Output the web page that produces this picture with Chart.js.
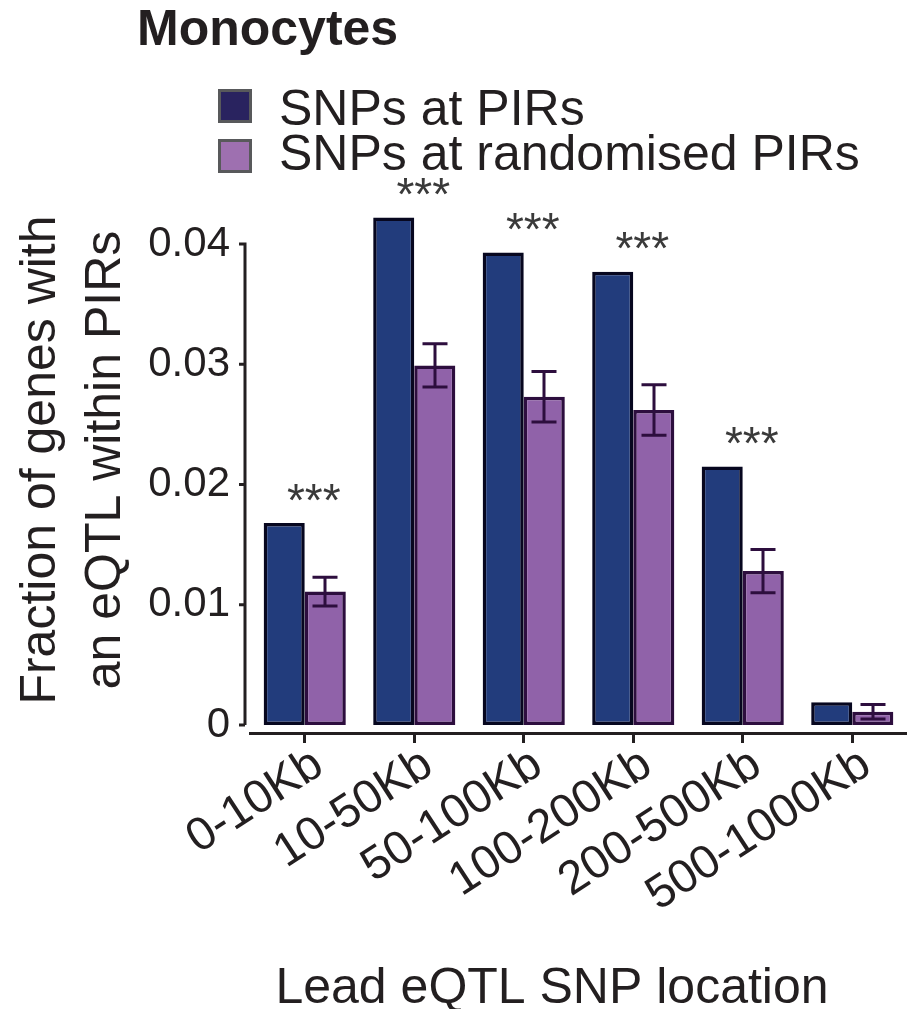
<!DOCTYPE html>
<html>
<head>
<meta charset="utf-8">
<script src="https://cdn.jsdelivr.net/npm/chart.js@4.4.1/dist/chart.umd.min.js"></script>
<style>
  html, body { margin: 0; padding: 0; background: #ffffff; }
  canvas { display: block; }
</style>
</head>
<body>
<canvas id="chart" width="907" height="1009"></canvas>
<script>
// ---- data -------------------------------------------------------------
const categories = ['0-10Kb', '10-50Kb', '50-100Kb', '100-200Kb', '200-500Kb', '500-1000Kb'];
const pirFraction = [0.0168, 0.0422, 0.0393, 0.0377, 0.0215, 0.0019];
const randomFraction = [0.0111, 0.0299, 0.0273, 0.0262, 0.0128, 0.0011];
const randomError = [0.0012, 0.0018, 0.0021, 0.0021, 0.0018, 0.0006];
const significance = ['***', '***', '***', '***', '***', ''];
const yTicks = [0, 0.01, 0.02, 0.03, 0.04];
const seriesNames = ['SNPs at PIRs', 'SNPs at randomised PIRs'];
const panelTitle = 'Monocytes';
const yTitle = ['Fraction of genes with', 'an eQTL within PIRs'];
const xTitle = 'Lead eQTL SNP location';

// ---- styles -----------------------------------------------------------
const FONT = "'Liberation Sans', Arial, Helvetica, sans-serif";
const INK = '#231f20';
const PIR_FILL = '#223c7c';
const PIR_EDGE = '#07071f';
const RND_FILL = '#9062a9';
const RND_EDGE = '#2d0e3e';
const KEY_FILLS = ['#29235f', '#9e70b0'];
const KEY_EDGE = '#58595b';
const Y_FLOOR = -0.00066;   // small gap between zero and the detached x axis

Chart.defaults.font.family = FONT;
Chart.defaults.color = INK;

// Error bars, significance stars, detached y axis and the text around the plot
const decorations = {
  id: 'decorations',
  afterDatasetsDraw(chart) {
    const ctx = chart.ctx;
    const xs = chart.scales.x;
    const ys = chart.scales.y;
    const area = chart.chartArea;

    ctx.save();

    // error bars on the randomised series
    const meta = chart.getDatasetMeta(1);
    ctx.strokeStyle = RND_EDGE;
    ctx.lineWidth = 3;
    meta.data.forEach((bar, i) => {
      const v = randomFraction[i];
      const e = randomError[i];
      const top = ys.getPixelForValue(v + e);
      const bot = ys.getPixelForValue(v - e);
      const cx = Math.round(bar.x);
      ctx.beginPath();
      ctx.moveTo(cx, top); ctx.lineTo(cx, bot);
      ctx.moveTo(cx - 12.5, top); ctx.lineTo(cx + 12.5, top);
      ctx.moveTo(cx - 12.5, bot); ctx.lineTo(cx + 12.5, bot);
      ctx.stroke();
    });

    // significance stars above each pair
    ctx.fillStyle = '#3a3a3a';
    ctx.font = '46px ' + FONT;
    ctx.textAlign = 'center';
    ctx.textBaseline = 'alphabetic';
    significance.forEach((s, i) => {
      if (!s) return;
      const cx = xs.getPixelForValue(i) + 9;
      const cy = ys.getPixelForValue(pirFraction[i]) - 34;
      ctx.fillText(s, cx, cy + 46 * 0.58);
    });

    // y axis line with ticks
    const ax = area.left - 5;
    ctx.strokeStyle = INK;
    ctx.lineWidth = 3;
    ctx.beginPath();
    ctx.moveTo(ax, ys.getPixelForValue(yTicks[0]));
    ctx.lineTo(ax, ys.getPixelForValue(yTicks[yTicks.length - 1]) - 1.5);
    yTicks.forEach(v => {
      const py = ys.getPixelForValue(v);
      ctx.moveTo(ax - 6, py);
      ctx.lineTo(ax, py);
    });
    ctx.stroke();

    // panel title
    ctx.fillStyle = INK;
    ctx.textAlign = 'left';
    ctx.font = 'bold 50px ' + FONT;
    ctx.fillText(panelTitle, 137, 45);

    // key
    const keyRows = [{ top: 89, base: 125 }, { top: 139, base: 170 }];
    ctx.font = '50px ' + FONT;
    chart.data.datasets.forEach((ds, i) => {
      const r = keyRows[i];
      ctx.fillStyle = KEY_FILLS[i];
      ctx.fillRect(218, r.top, 34, 34);
      ctx.strokeStyle = KEY_EDGE;
      ctx.lineWidth = 3;
      ctx.strokeRect(219.5, r.top + 1.5, 31, 31);
      ctx.fillStyle = INK;
      ctx.fillText(ds.label, 279, r.base);
    });

    // y axis title, two lines read bottom to top
    ctx.font = '50px ' + FONT;
    ctx.textAlign = 'center';
    ctx.fillStyle = INK;
    [55, 120].forEach((bx, i) => {
      ctx.save();
      ctx.translate(bx, 460);
      ctx.rotate(-Math.PI / 2);
      ctx.fillText(yTitle[i], 0, 0);
      ctx.restore();
    });

    // x axis title
    ctx.fillText(xTitle, 552, 1003);

    ctx.restore();
  }
};

new Chart(document.getElementById('chart'), {
  type: 'bar',
  data: {
    labels: categories,
    datasets: [
      {
        label: seriesNames[0],
        data: pirFraction,
        backgroundColor: PIR_FILL,
        borderColor: PIR_EDGE,
        borderWidth: 3.5,
        borderSkipped: false,
        clip: false,
        categoryPercentage: 0.75,
        barPercentage: 1
      },
      {
        label: seriesNames[1],
        data: randomFraction,
        backgroundColor: RND_FILL,
        borderColor: RND_EDGE,
        borderWidth: 3.5,
        borderSkipped: false,
        clip: false,
        categoryPercentage: 0.75,
        barPercentage: 1
      }
    ]
  },
  options: {
    responsive: false,
    animation: false,
    devicePixelRatio: 1,
    layout: { padding: { top: 244, left: 0, right: 0, bottom: 0 } },
    plugins: {
      legend: { display: false },
      title: { display: false },
      tooltip: { enabled: false }
    },
    scales: {
      x: {
        grid: {
          display: true, drawOnChartArea: false, drawTicks: true, tickLength: 10,
          offset: false, color: INK, lineWidth: 3, tickColor: INK, tickWidth: 3
        },
        border: { display: true, color: INK, width: 3 },
        ticks: {
          autoSkip: false, minRotation: 33, maxRotation: 33, padding: -6,
          labelOffset: 14, color: INK, font: { size: 47 }
        },
        afterFit(s) { s.height = 276; s.paddingLeft = 0; s.paddingRight = 0; }
      },
      y: {
        min: Y_FLOOR,
        max: 0.04,
        grid: { display: false, drawTicks: false },
        border: { display: false },
        ticks: {
          padding: 20, color: INK, font: { size: 42 },
          callback: v => (v === 0 ? '0' : v.toFixed(2))
        },
        afterBuildTicks(s) { s.ticks = yTicks.map(v => ({ value: v })); },
        afterFit(s) { s.width = 250; s.paddingTop = 0; s.paddingBottom = 0; }
      }
    }
  },
  plugins: [decorations]
});
</script>
</body>
</html>
